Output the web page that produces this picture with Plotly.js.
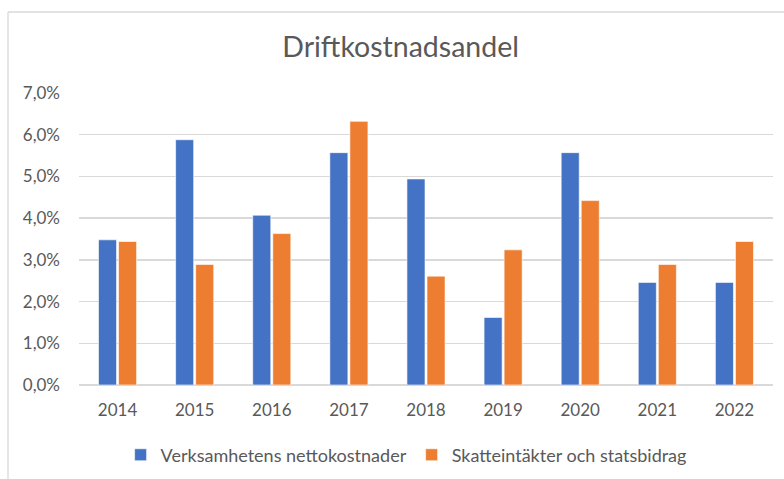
<!DOCTYPE html>
<html>
<head>
<meta charset="utf-8">
<script src="https://cdn.plot.ly/plotly-3.0.1.min.js"></script>
<style>
  html, body { margin: 0; padding: 0; background: #ffffff; }
  #chart { width: 784px; height: 479px; }
</style>
</head>
<body>
<div id="chart"></div>
<script>
const years = ['2014', '2015', '2016', '2017', '2018', '2019', '2020', '2021', '2022'];
const nettokostnader = [3.48, 5.88, 4.07, 5.57, 4.94, 1.62, 5.57, 2.46, 2.46];
const skatteintakter = [3.44, 2.89, 3.63, 6.32, 2.61, 3.24, 4.42, 2.89, 3.44];
const seriesNames = ['Verksamhetens nettokostnader', 'Skatteintäkter och statsbidrag'];
const yTicks = [0, 1, 2, 3, 4, 5, 6, 7];
const yTickLabels = ['0,0%', '1,0%', '2,0%', '3,0%', '4,0%', '5,0%', '6,0%', '7,0%'];

const fontFam = 'Lato, "Open Sans", sans-serif';
const textColor = '#595959';

const traces = [
  {
    type: 'bar', name: seriesNames[0], x: years, y: nettokostnader,
    marker: { color: '#4472C4', line: { color: 'rgba(255,255,255,0.6)', width: 1 } },
    hoverinfo: 'x+y'
  },
  {
    type: 'bar', name: seriesNames[1], x: years, y: skatteintakter,
    marker: { color: '#ED7D31', line: { color: 'rgba(255,255,255,0.6)', width: 1 } },
    hoverinfo: 'x+y'
  }
];

const layout = {
  width: 784, height: 479,
  paper_bgcolor: '#ffffff', plot_bgcolor: '#ffffff',
  margin: { l: 79, r: 11, t: 93, b: 94, pad: 0, autoexpand: false },
  font: { family: fontFam, color: textColor, size: 17 },
  title: {
    text: 'Driftkostnadsandel',
    font: { family: fontFam, size: 28.5, color: textColor },
    x: 0.511, xref: 'container', xanchor: 'center',
    y: 0.902, yref: 'container', yanchor: 'middle'
  },
  barmode: 'group', bargap: 0.48, bargroupgap: 0.1,
  showlegend: true,
  legend: {
    orientation: 'h', x: 0.518, xref: 'container', xanchor: 'center',
    y: 0.05, yref: 'container', yanchor: 'middle',
    font: { family: fontFam, size: 18, color: textColor },
    traceorder: 'normal'
  },
  xaxis: {
    type: 'category', showgrid: false, showline: false, zeroline: false,
    ticks: '', ticklabelstandoff: 13,
    tickfont: { family: fontFam, size: 17, color: textColor }
  },
  yaxis: {
    range: [0, 7], tickvals: yTicks, ticktext: yTickLabels,
    showgrid: true, gridcolor: '#d9d9d9', gridwidth: 1.3,
    zeroline: true, zerolinecolor: '#d9d9d9', zerolinewidth: 1.3,
    showline: false, ticks: '', ticklabelstandoff: 18,
    tickfont: { family: fontFam, size: 17, color: textColor }
  },
  shapes: [
    { type: 'line', xref: 'paper', yref: 'paper', x0: -0.1023, x1: -0.1023, y0: -0.35, y1: 1.2774,
      line: { color: '#d9d9d9', width: 1.3 } },
    { type: 'line', xref: 'paper', yref: 'paper', x0: -0.1023, x1: 1.1, y0: 1.2774, y1: 1.2774,
      line: { color: '#d9d9d9', width: 1.3 } }
  ]
};

Plotly.newPlot('chart', traces, layout, { displayModeBar: false, staticPlot: true });
</script>
</body>
</html>
